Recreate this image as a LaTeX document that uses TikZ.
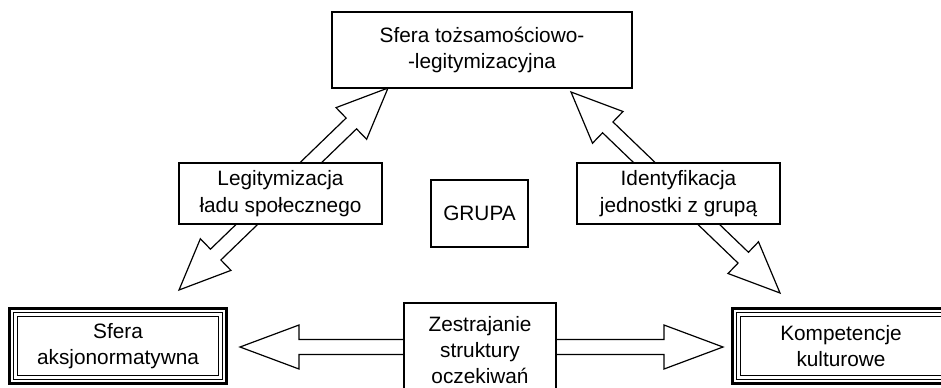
\documentclass[tikz,border=0pt]{standalone}
\usepackage{fontspec}
\setmainfont{Liberation Sans}
\usetikzlibrary{calc,backgrounds}

\tikzset{
  box/.style={draw, line width=0.6pt, fill=white, align=center, inner sep=0pt,
    font=\fontsize{10.4}{13.2}\selectfont},
  sphere/.style={box, line width=1.6pt, outer sep=0pt},
  innerframe/.style={draw, double, line width=0.45pt, double distance=1.15pt},
  fat/.style={draw, line width=0.6pt, fill=white, line join=miter},
}

% fat double-headed arrow: tips #1 and #2, head length #3
\newcommand\fatarrow[3]{%
  \draw[fat] (#1)
    -- ($(#1)!#3!(#2)!11pt!90:(#2)$) -- ($(#1)!#3!(#2)!3.75pt!90:(#2)$)
    -- ($(#2)!#3!(#1)!3.75pt!-90:(#1)$) -- ($(#2)!#3!(#1)!11pt!-90:(#1)$)
    -- (#2)
    -- ($(#2)!#3!(#1)!11pt!90:(#1)$) -- ($(#2)!#3!(#1)!3.75pt!90:(#1)$)
    -- ($(#1)!#3!(#2)!3.75pt!-90:(#2)$) -- ($(#1)!#3!(#2)!11pt!-90:(#2)$)
    -- cycle;}

\begin{document}
\begin{tikzpicture}[x=0.5pt, y=-0.5pt]
	\useasboundingbox (0,0) rectangle (941,387);
	\clip (0,0) rectangle (941,387);
	% Nodes
	\node[box, minimum width=150pt, minimum height=38pt] (tozs) at (482,50)
		{Sfera tożsamościowo-\\-legitymizacyjna};
	\node[box, minimum width=48.5pt, minimum height=33.5pt] (grupa) at (479.5,213.5) {GRUPA};
	\node[box, minimum width=101.5pt, minimum height=30.5pt] (legit) at (280.5,193.5)
		{Legitymizacja\\ładu społecznego};
	\node[box, minimum width=101.5pt, minimum height=30.5pt] (ident) at (678.5,193.5)
		{Identyfikacja\\jednostki z grupą};
	\node[box, minimum width=76pt, minimum height=47pt] (zestr) at (480,350)
		{Zestrajanie\\struktury\\oczekiwań};
	\node[sphere, minimum width=108.5pt, minimum height=37.5pt] (aksjo) at (118,346)
		{Sfera\\aksjonormatywna};
	\node[sphere, minimum width=108.5pt, minimum height=37.5pt] (kompet) at (841,346)
		{Kompetencje\\kulturowe};
	\draw[innerframe] ([shift={(6,6)}]aksjo.north west) rectangle ([shift={(-6,-6)}]aksjo.south east);
	\draw[innerframe] ([shift={(6,6)}]kompet.north west) rectangle ([shift={(-6,-6)}]kompet.south east);
	% Arrow tips
	\coordinate (h1) at (240,347);
	\coordinate (h2) at (723,347);
	\coordinate (l1) at (179,290);
	\coordinate (l2) at (388,88);
	\coordinate (r1) at (571,92);
	\coordinate (r2) at (780,293);
	% Arrows
	\begin{scope}[on background layer]
		\fatarrow{h1}{h2}{29.5pt}
		\fatarrow{l1}{l2}{25.5pt}
		\fatarrow{r1}{r2}{25.5pt}
	\end{scope}
\end{tikzpicture}
\end{document}
